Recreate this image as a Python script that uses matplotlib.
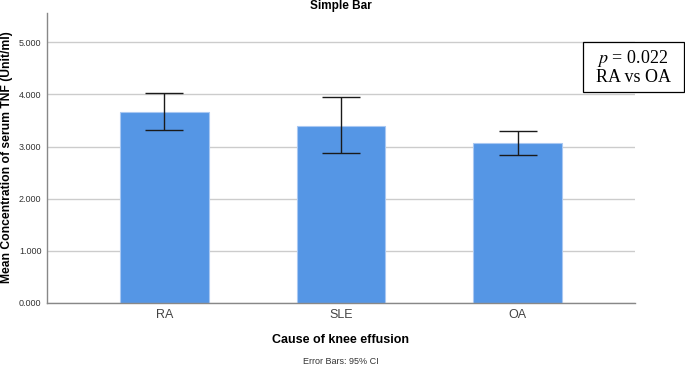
import matplotlib.pyplot as plt
from matplotlib.patches import Rectangle
import numpy as np

categories = ['RA', 'SLE', 'OA']
means = [3.665, 3.40, 3.06]
ci_low = [3.31, 2.88, 2.84]
ci_high = [4.03, 3.94, 3.295]
yticks = [0, 1, 2, 3, 4, 5]

plt.rcParams['font.family'] = ['Liberation Sans', 'DejaVu Sans']

W, H = 685, 368
fig = plt.figure(figsize=(W / 100, H / 100), dpi=100)
ax = fig.add_axes([47/W, 65/H, 588/W, 290/H])

x = np.arange(len(categories))
means = np.array(means)
err = [means - np.array(ci_low), np.array(ci_high) - means]

ax.bar(x, means, width=0.5, color='#5596e5', edgecolor='#a9c8f2', linewidth=0.8, zorder=2)
ax.errorbar(x, means, yerr=err, fmt='none', ecolor='#1a1a1a', elinewidth=1.0,
            capsize=14, capthick=1.0, zorder=3)

ax.set_xlim(-0.665, 2.665)
ax.set_ylim(0, 5.56)
ax.set_yticks(yticks)
ax.set_yticklabels(['%.3f' % v for v in yticks], fontsize=6.5, color='#333333')
ax.set_xticks(x)
ax.set_xticklabels(categories, fontsize=9, color='#444444')
ax.tick_params(axis='both', length=0, pad=4)
ax.yaxis.grid(True, color='#cccccc', linewidth=1.0, zorder=0)
ax.set_axisbelow(True)

for s in ['top', 'right']:
    ax.spines[s].set_visible(False)
for s in ['left', 'bottom']:
    ax.spines[s].set_color('#888888')
    ax.spines[s].set_linewidth(1.0)

fig.text(7/W, 1 - 157/H, 'Mean Concentration of serum TNF (Unit/ml)', rotation=90,
         ha='center', va='center', fontsize=8.7, fontweight='bold')
fig.text(0.5 * (47 + 635) / W, 1 - 6/H, 'Simple Bar', ha='center', va='center',
         fontsize=8.5, fontweight='bold')
fig.text(341/W, 1 - 340/H, 'Cause of knee effusion', ha='center', va='center',
         fontsize=9, fontweight='bold')
fig.text(341/W, 1 - 362/H, 'Error Bars: 95% CI', ha='center', va='center',
         fontsize=6.5, color='#333333')

# p-value box
fig.patches.append(Rectangle((583/W, 1 - 92/H), 101/W, 50/H, transform=fig.transFigure,
                             facecolor='white', edgecolor='black', linewidth=0.9,
                             zorder=5))
fig.text(633/W, 1 - 67/H, '$p$ = 0.022\nRA vs OA', ha='center', va='center',
         fontsize=13, family=['Liberation Serif', 'DejaVu Serif'], linespacing=1.05,
         math_fontfamily='stix', zorder=6)

fig.savefig('out.png', dpi=100)
